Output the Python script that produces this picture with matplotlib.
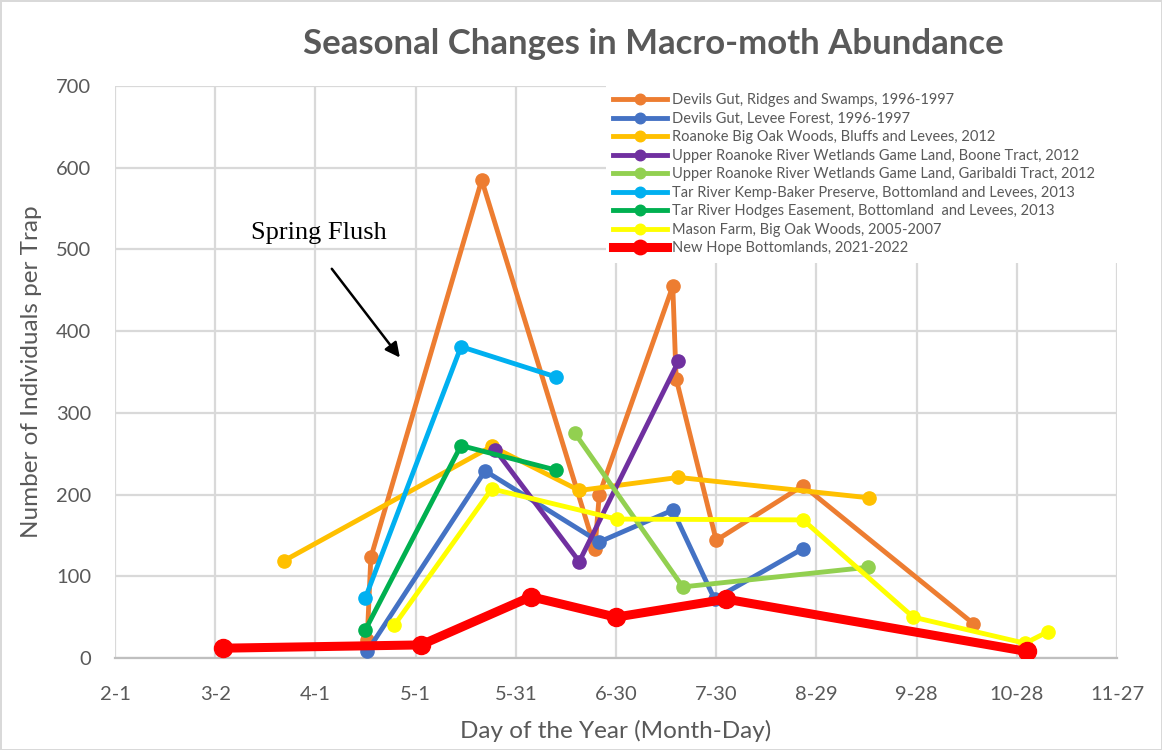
import matplotlib
matplotlib.use("Agg")
import matplotlib.pyplot as plt

plt.rcParams['font.family'] = ['Lato', 'DejaVu Sans']

# day of year (Excel serial days, 2-1 = 32) and individuals per trap
dg_ridges_day = [107.5, 108.6, 141.8, 175.7, 177, 199, 200, 212, 238, 289]
dg_ridges = [22, 123, 585, 134, 200, 455, 342, 144, 211, 42]

dg_levee_day = [107.5, 142.8, 177, 199, 211.5, 238]
dg_levee = [8, 229, 142, 181, 72, 134]

roanoke_day = [82.6, 144.8, 171, 200.7, 257.8]
roanoke = [119, 259, 205, 221, 196]

boone_day = [145.8, 171, 200.7]
boone = [255, 118, 363]

garibaldi_day = [169.7, 202, 257.3]
garibaldi = [275, 87, 111]

kemp_day = [106.9, 135.6, 164]
kemp = [73, 381, 344]

hodges_day = [106.9, 135.6, 164]
hodges = [34, 260, 230]

mason_day = [115.6, 144.8, 182.2, 238, 271, 304.5, 311.2]
mason = [40, 207, 170, 169, 50, 18, 32]

newhope_day = [64.4, 123.6, 156.5, 182, 215, 305]
newhope = [12, 16, 75, 50, 72, 8]

tick_days = [32, 62, 92, 122, 152, 182, 212, 242, 272, 302, 332]
tick_labels = ["2-1", "3-2", "4-1", "5-1", "5-31", "6-30", "7-30",
               "8-29", "9-28", "10-28", "11-27"]

series = [
    (dg_ridges_day, dg_ridges, "#ED7D31", "Devils Gut, Ridges and Swamps, 1996-1997"),
    (dg_levee_day, dg_levee, "#4472C4", "Devils Gut, Levee Forest, 1996-1997"),
    (roanoke_day, roanoke, "#FFC000", "Roanoke Big Oak Woods, Bluffs and Levees, 2012"),
    (boone_day, boone, "#7030A0", "Upper Roanoke River Wetlands Game Land, Boone Tract, 2012"),
    (garibaldi_day, garibaldi, "#92D050", "Upper Roanoke River Wetlands Game Land, Garibaldi Tract, 2012"),
    (kemp_day, kemp, "#00B0F0", "Tar River Kemp-Baker Preserve, Bottomland and Levees, 2013"),
    (hodges_day, hodges, "#00B050", "Tar River Hodges Easement, Bottomland  and Levees, 2013"),
    (mason_day, mason, "#FFFF00", "Mason Farm, Big Oak Woods, 2005-2007"),
]

grey = "#595959"

fig = plt.figure(figsize=(11.62, 7.5), dpi=100)
fig.patch.set_edgecolor("#D9D9D9")
fig.patch.set_linewidth(2)
ax = fig.add_axes([115 / 1162, 1 - 658 / 750, 1002 / 1162, 572 / 750])

for d, v, c, lab in series:
    ax.plot(d, v, color=c, lw=3.5, marker='o', ms=9.5, label=lab, zorder=3)
ax.plot(newhope_day, newhope, color="#FF0000", lw=6.5, marker='o', ms=13,
        label="New Hope Bottomlands, 2021-2022", zorder=4)

ax.set_xlim(32, 332)
ax.set_ylim(0, 700)
ax.set_xticks(tick_days)
ax.set_xticklabels(tick_labels)
ax.set_yticks(range(0, 701, 100))
ax.grid(True, color="#D9D9D9", lw=1.6, zorder=0)
ax.set_axisbelow(True)
for s in ['top', 'right', 'left']:
    ax.spines[s].set_visible(False)
ax.spines['bottom'].set_color("#BFBFBF")
ax.spines['bottom'].set_linewidth(1.6)
ax.tick_params(length=0, labelsize=14.5, labelcolor=grey)
ax.tick_params(axis='x', pad=20)
ax.tick_params(axis='y', pad=17)

ax.set_xlabel("Day of the Year (Month-Day)", fontsize=17.5, color=grey, labelpad=12)
ax.set_ylabel("Number of Individuals per Trap", fontsize=17.5, color=grey, labelpad=10)
fig.suptitle("Seasonal Changes in Macro-moth Abundance", fontsize=25, fontweight='bold',
             color=grey, x=653 / 1162, y=1 - 28 / 750, va='top')

ax.annotate("", xy=(117.8, 365), xytext=(96.4, 479),
            arrowprops=dict(arrowstyle="-|>", color="black", lw=1.8, mutation_scale=22))
ax.text(93, 520, "Spring Flush", family="Liberation Serif", fontsize=19,
        ha='center', va='center', color="black")

leg = ax.legend(loc='upper left', bbox_to_anchor=(0.49, 1.0, 0.51, 0), mode='expand',
                borderaxespad=0, fontsize=10.5, labelcolor=grey, frameon=True,
                fancybox=False, framealpha=1, facecolor='white', edgecolor='none',
                handlelength=3.7, handletextpad=0.35, labelspacing=0.31, borderpad=0.5,
                markerscale=0.8)
leg.set_zorder(5)

fig.savefig("out.png", dpi=100)
